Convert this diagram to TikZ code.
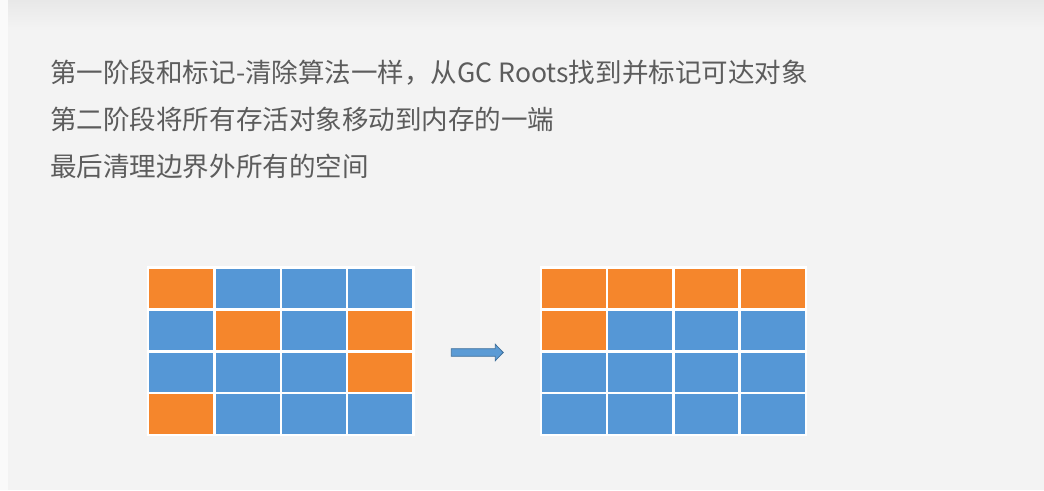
\documentclass[tikz,border=0pt]{standalone}
\usepackage{fontspec}
\newfontfamily\cjk{Noto Sans CJK SC}
\usetikzlibrary{calc}
\definecolor{bgpanel}{HTML}{F3F3F3}
\definecolor{bgleft}{HTML}{FAFAFA}
\definecolor{bgtop}{HTML}{E8E8E8}
\definecolor{txtgray}{HTML}{5C5C5C}
\definecolor{co}{HTML}{F5862C}
\definecolor{cb}{HTML}{5597D6}
\definecolor{arrfill}{HTML}{5B9BD5}
\definecolor{arrline}{HTML}{41719C}
\tikzset{
  txt/.style={anchor=base west, inner sep=0pt, text=txtgray, font=\cjk\fontsize{19.9pt}{24pt}\selectfont},
  cell/.style={draw=white, line width=1.8pt, minimum width=49.8pt, minimum height=31.4pt, inner sep=0pt},
  blockarrow/.style={draw=arrline, fill=arrfill, line width=0.6pt, line join=miter}
}
\begin{document}
\begin{tikzpicture}[x=0.75pt,y=-0.75pt]
\useasboundingbox (0,0) rectangle (1044,490);
\fill[bgleft] (0,0) rectangle (1044,490);
\fill[bgpanel] (8,0) rectangle (1044,490);
\shade[top color=bgtop, bottom color=bgpanel] (8,0) rectangle (1044,28);

\node[txt] (t1) at (50,82) {第一阶段和标记-清除算法一样，从GC Roots找到并标记可达对象};
\node[txt] (t2) at (50,129) {第二阶段将所有存活对象移动到内存的一端};
\node[txt] (t3) at (50,176) {最后清理边界外所有的空间};

\foreach \c [count=\i from 0] in {o,b,b,b, b,o,b,o, b,b,b,o, o,b,b,b} {
  \pgfmathtruncatemacro\cc{mod(\i,4)}
  \pgfmathtruncatemacro\rr{int(\i/4)}
  \node[cell, fill=c\c] (L\i) at ({148+66.4*(\cc+0.5)},{267.5+41.9*(\rr+0.5)}) {};
}
\foreach \c [count=\i from 0] in {o,o,o,o, o,b,b,b, b,b,b,b, b,b,b,b} {
  \pgfmathtruncatemacro\cc{mod(\i,4)}
  \pgfmathtruncatemacro\rr{int(\i/4)}
  \node[cell, fill=c\c] (R\i) at ({541+66.2*(\cc+0.5)},{267.5+41.9*(\rr+0.5)}) {};
}

\coordinate (amid) at ($(L7.south east)!0.5!(R4.south west)$);
\draw[blockarrow] ($(amid)+(-26,-3.8)$) -- ($(amid)+(18,-3.8)$) -- ($(amid)+(18,-8.2)$)
  -- ($(amid)+(26,0)$) -- ($(amid)+(18,8.2)$) -- ($(amid)+(18,3.8)$) -- ($(amid)+(-26,3.8)$) -- cycle;
\end{tikzpicture}
\end{document}
